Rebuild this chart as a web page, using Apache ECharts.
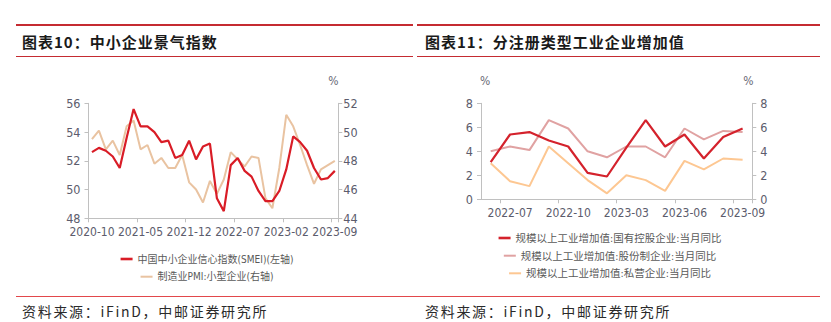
<!DOCTYPE html>
<html>
<head>
<meta charset="utf-8">
<script src="https://cdn.jsdelivr.net/npm/echarts@6/dist/echarts.min.js"></script>
<style>
  html, body { margin: 0; padding: 0; background: #fff; }
  #page { position: relative; width: 831px; height: 322px; overflow: hidden; background: #fff; }
  .rule { position: absolute; }
  .ttl { position: absolute; font-family: 'Noto Sans CJK SC', sans-serif; font-weight: bold;
         font-size: 15px; line-height: 18px; letter-spacing: 1px; color: #1a1a1a; white-space: nowrap; }
  .src { position: absolute; font-family: 'Noto Sans CJK SC', sans-serif; font-size: 14px;
         line-height: 18px; letter-spacing: 1.7px; color: #2a2a2a; white-space: nowrap; }
  #chart { position: absolute; left: 0; top: 0; width: 831px; height: 322px; }
</style>
</head>
<body>
<div id="page">
  <div class="rule" style="left:16px;top:24px;width:397px;height:2px;background:#c52b31"></div>
  <div class="rule" style="left:417px;top:24px;width:403px;height:2px;background:#c52b31"></div>
  <div class="rule" style="left:16px;top:56px;width:397px;height:1px;background:#c52b31"></div>
  <div class="rule" style="left:417px;top:56px;width:403px;height:1px;background:#c52b31"></div>
  <div class="ttl" style="left:22px;top:33px">图表10：中小企业景气指数</div>
  <div class="ttl" style="left:425px;top:33px">图表11：分注册类型工业企业增加值</div>
  <div class="rule" style="left:16px;top:296px;width:804px;height:1px;background:#e2474b"></div>
  <div class="src" style="left:22px;top:302px">资料来源：iFinD，中邮证券研究所</div>
  <div class="src" style="left:425px;top:302px">资料来源：iFinD，中邮证券研究所</div>
  <div id="chart"></div>
</div>
<script>
// ---- Left panel: SME business climate, monthly ----
const smeMonths = [
  '2020-10','2020-11','2020-12','2021-01','2021-02','2021-03','2021-04','2021-05','2021-06',
  '2021-07','2021-08','2021-09','2021-10','2021-11','2021-12','2022-01','2022-02','2022-03',
  '2022-04','2022-05','2022-06','2022-07','2022-08','2022-09','2022-10','2022-11','2022-12',
  '2023-01','2023-02','2023-03','2023-04','2023-05','2023-06','2023-07','2023-08','2023-09'
];
// 中国中小企业信心指数(SMEI), left axis
const smeiIndex = [
  52.6, 52.9, 52.7, 52.3, 51.5, 53.6, 55.6, 54.4, 54.4, 54.0, 53.3, 53.4,
  52.2, 52.4, 53.4, 52.1, 53.0, 53.2, 49.4, 48.5, 51.7, 52.2, 51.3, 50.9,
  49.9, 49.2, 49.2, 49.9, 51.4, 53.7, 53.3, 52.7, 51.5, 50.7, 50.8, 51.3
];
// 制造业PMI:小型企业, right axis
const smallPmi = [
  49.5, 50.1, 48.8, 49.4, 48.4, 50.4, 50.8, 48.8, 49.1, 47.8, 48.2, 47.5,
  47.5, 48.4, 46.5, 46.0, 45.1, 46.6, 45.7, 46.7, 48.6, 48.1, 47.6, 48.3,
  48.2, 45.4, 44.7, 47.5, 51.2, 50.4, 49.1, 47.7, 46.4, 47.4, 47.7, 48.0
];
const smeLeftTicks = [48, 56, 2];   // min, max, step
const smeRightTicks = [44, 52, 2];

// ---- Right panel: industrial value added by ownership, yoy % ----
const ivaMonths = [
  '2022-06','2022-07','2022-08','2022-09','2022-10','2022-11','2022-12',
  '2023-03','2023-04','2023-05','2023-06','2023-07','2023-08','2023-09'
];
const ivaStateOwned = [3.1, 5.4, 5.6, 4.9, 4.4, 2.2, 1.9, 4.3, 6.6, 4.4, 5.4, 3.4, 5.2, 5.9];
const ivaShareholding = [4.0, 4.4, 4.1, 6.6, 5.9, 4.0, 3.5, 4.4, 4.4, 3.5, 5.9, 5.0, 5.7, 5.6];
const ivaPrivate = [3.0, 1.5, 1.1, 4.4, 3.0, 1.6, 0.5, 2.0, 1.6, 0.7, 3.2, 2.5, 3.4, 3.3];
const ivaTicks = [0, 8, 2];

const names = {
  smei: '中国中小企业信心指数(SMEI)(左轴)',
  pmi: '制造业PMI:小型企业(右轴)',
  state: '规模以上工业增加值:国有控股企业:当月同比',
  share: '规模以上工业增加值:股份制企业:当月同比',
  priv: '规模以上工业增加值:私营企业:当月同比'
};

const colors = {
  smei: '#d91c26', pmi: '#e9c3a1',
  state: '#d4222c', share: '#e0a2a2', priv: '#fdc792'
};

const numFont = "'Liberation Sans Narrow','DejaVu Sans Condensed','Noto Sans CJK SC',sans-serif";
const axisGrey = '#c0c0c0';
const labelColor = '#5c5c6c';

// legend boxes are centred under each panel; width measured from the text
const measureCtx = document.createElement('canvas').getContext('2d');
function centredLegend(name, cx, cy, fontSize, iconH) {
  measureCtx.font = fontSize + 'px ' + numFont;
  const w = 12 + 5 + measureCtx.measureText(name).width;
  return {
    data: [name], left: cx - w / 2, top: cy - 7, padding: 0,
    icon: 'rect', itemWidth: 12, itemHeight: iconH, itemGap: 0, selectedMode: false,
    textStyle: { fontSize: fontSize, color: '#595959', fontFamily: numFont, lineHeight: 14 }
  };
}

function valueLabel(margin) {
  return { color: labelColor, fontSize: 12.5, lineHeight: 12, fontFamily: numFont, margin: margin };
}

function valueAxis(ticks, gridIndex, pos, extra) {
  return Object.assign({
    type: 'value', gridIndex: gridIndex, position: pos,
    min: ticks[0], max: ticks[1], interval: ticks[2],
    axisLine: { show: true, lineStyle: { color: axisGrey, width: 1 } },
    axisTick: { show: true, length: 4, lineStyle: { color: axisGrey } },
    splitLine: { show: false },
    axisLabel: valueLabel(8)
  }, extra || {});
}

function categoryAxis(data, gridIndex, labelInterval, margin) {
  return {
    type: 'category', gridIndex: gridIndex, data: data, boundaryGap: true,
    axisLine: { show: true, lineStyle: { color: axisGrey, width: 1 } },
    axisTick: { show: true, length: 4, alignWithLabel: false, lineStyle: { color: axisGrey } },
    axisLabel: { interval: labelInterval, color: labelColor, fontSize: 12, lineHeight: 11,
                 fontFamily: numFont, margin: margin }
  };
}

const pctName = (pad) => ({
  name: '%', nameLocation: 'end', nameGap: 22,
  nameTextStyle: { color: '#6a6a76', fontSize: 12, fontFamily: numFont,
                   align: 'center', verticalAlign: 'middle', padding: pad }
});

const lineSeries = (name, data, color, x, y, z, width) => ({
  type: 'line', name: name, data: data, xAxisIndex: x, yAxisIndex: y, z: z,
  symbol: 'none', smooth: false, color: color,
  lineStyle: { color: color, width: width }, itemStyle: { color: color },
  emphasis: { disabled: true }
});

const chart = echarts.init(document.getElementById('chart'), null, { renderer: 'svg' });
chart.setOption({
  backgroundColor: 'transparent',
  animation: false,
  grid: [
    { left: 88.5, right: 492.7, top: 103.3, bottom: 103.7 },
    { left: 481, right: 78.7, top: 103.3, bottom: 122.7 }
  ],
  xAxis: [
    categoryAxis(smeMonths, 0, 6, 8),
    categoryAxis(ivaMonths, 1, (idx) => idx % 3 === 1, 8)
  ],
  yAxis: [
    valueAxis(smeLeftTicks, 0, 'left'),
    valueAxis(smeRightTicks, 0, 'right', Object.assign(pctName([0, 10, 0, 0]),
      { axisLabel: valueLabel(5) })),
    valueAxis(ivaTicks, 1, 'left', pctName([0, 0, 0, 8])),
    valueAxis(ivaTicks, 1, 'right', pctName([0, 8, 0, 0]))
  ],
  legend: [
    centredLegend(names.smei, 207, 259, 10, 2.6),
    centredLegend(names.pmi, 207, 276.7, 10, 2),
    centredLegend(names.state, 610, 238, 10.5, 2.6),
    centredLegend(names.share, 610, 255.7, 10.5, 2),
    centredLegend(names.priv, 610, 273.3, 10.5, 2)
  ],
  series: [
    lineSeries(names.pmi, smallPmi, colors.pmi, 0, 1, 2, 2),
    lineSeries(names.smei, smeiIndex, colors.smei, 0, 0, 3, 2.2),
    lineSeries(names.priv, ivaPrivate, colors.priv, 1, 2, 2, 2),
    lineSeries(names.share, ivaShareholding, colors.share, 1, 2, 3, 2),
    lineSeries(names.state, ivaStateOwned, colors.state, 1, 2, 4, 2.2)
  ]
});
</script>
</body>
</html>
